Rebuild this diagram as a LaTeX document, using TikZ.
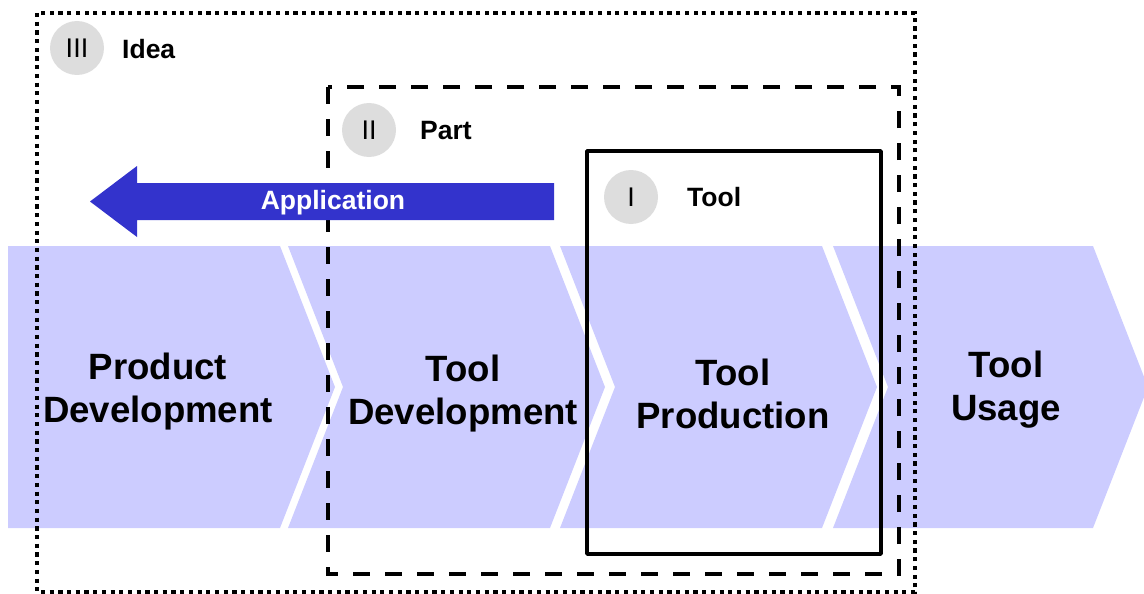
\documentclass[tikz,border=0pt]{standalone}
\usepackage{fontspec}
\setmainfont{Liberation Sans}

\definecolor{stagefill}{HTML}{CCCCFF}
\definecolor{appblue}{HTML}{3333CC}
\definecolor{numgray}{HTML}{DDDDDD}

\tikzset{
    stage/.style={fill=stagefill},
    stagetext/.style={align=center, inner sep=0, font=\fontsize{36.6}{43}\selectfont\bfseries},
    numcircle/.style={circle, fill=numgray, minimum size=54pt, inner sep=0, font=\fontsize{27}{27}\selectfont},
    levellabel/.style={anchor=west, inner sep=0, font=\fontsize{26.5}{26.5}\selectfont\bfseries},
    ideabox/.style={line width=4.5pt, dash pattern=on 4.2pt off 4.5pt},
    partbox/.style={line width=4.2pt, dash pattern=on 17pt off 15pt},
    toolbox/.style={line width=3.8pt, line join=round},
}

\begin{document}
\begin{tikzpicture}[x=1pt, y=-1pt]
        \useasboundingbox (0,0) rectangle (1144,594);

        % chevrons
        \fill[stage] (8,246) -- (280,246) -- (335,387) -- (280,528) -- (8,528) -- cycle;
        \fill[stage] (288,246) -- (550,246) -- (605,387) -- (550,528) -- (288,528) -- (343,387) -- cycle;
        \fill[stage] (560,246) -- (822,246) -- (877,387) -- (822,528) -- (560,528) -- (615,387) -- cycle;
        \fill[stage] (833,246) -- (1093,246) -- (1148,387) -- (1093,528) -- (833,528) -- (888,387) -- cycle;

        % stage names
        \node[stagetext] (prod) at (158,392) {Product\\Development};
        \node[stagetext] (tdev) at (463,394) {Tool\\Development};
        \node[stagetext] (tprod) at (733,394) {Tool\\Production};
        \node[stagetext] (tuse) at (1006,390) {Tool\\Usage};

        % levels
        \draw[ideabox] (37,13) rectangle (915,592);
        \draw[partbox] (328,87) rectangle (899,574);
        \draw[toolbox] (587,151) rectangle (881,554);

        \node[numcircle] (lvl3) at (77,48) {III};
        \node[levellabel] (idea) at (122,49) {Idea};
        \node[numcircle] (lvl2) at (369,130) {II};
        \node[levellabel] (part) at (420,131) {Part};
        \node[numcircle] (lvl1) at (631,197) {I};
        \node[levellabel] (tool) at (687,197) {Tool};

        % application arrow
        \fill[appblue] (554,183) -- (137,183) -- (137,166) -- (90,201.5) -- (137,237) -- (137,220) -- (554,220) -- cycle;
        \node[levellabel, anchor=center, text=white] (app) at (333,203) {Application};
\end{tikzpicture}
\end{document}
